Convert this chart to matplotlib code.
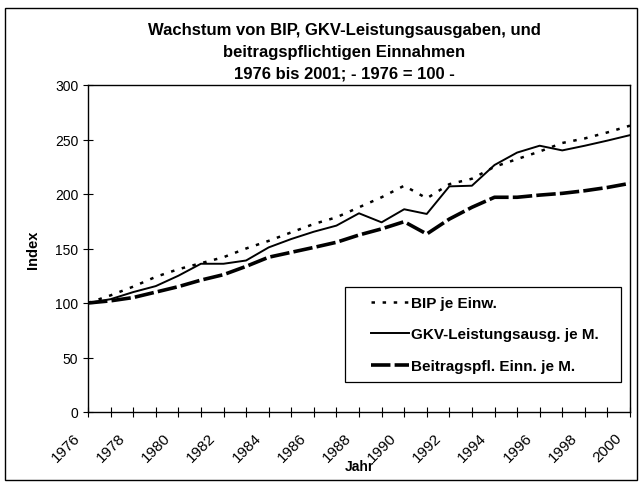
import matplotlib.pyplot as plt
from matplotlib.patches import Rectangle
from matplotlib.transforms import ScaledTranslation

plt.rcParams['font.family'] = ['Liberation Sans', 'DejaVu Sans']
plt.rcParams['lines.scale_dashes'] = False

jahre = list(range(1976, 2001))
bip = [100, 107, 115, 124, 131, 136.5, 142, 150, 157, 164.8, 172.5, 178.6, 187.8,
       197, 207.6, 196, 209, 214, 225, 232, 239, 246.8, 251, 256.5, 262.7]
gkv = [100, 103.5, 110, 115.5, 125, 136, 136, 139, 151, 158.7, 165.4, 171, 182.3,
       174, 186, 181.7, 207, 207.6, 226.6, 238, 244.3, 240, 244.3, 249, 254]
beitrag = [100, 102, 105, 110, 115, 121, 126, 133.6, 142, 146.5, 151, 155.7, 162.4,
           168, 174.6, 163.3, 177, 187.8, 197, 197, 199, 200.6, 203, 206, 209.8]

fig = plt.figure(figsize=(6.43, 4.89), dpi=100)
ax = fig.add_axes([88 / 643, 1 - 413 / 489, 542 / 643, 327 / 489])

ax.plot(jahre, bip, color='black', lw=1.8, dashes=(2.5, 5.5), label='BIP je Einw.')
ax.plot(jahre, gkv, color='black', lw=1.4, label='GKV-Leistungsausg. je M.')
ax.plot(jahre, beitrag, color='black', lw=2.6, dashes=(14, 3), label='Beitragspfl. Einn. je M.')

ax.set_xlim(1976, 2000)
ax.set_ylim(0, 300)
ax.set_yticks(range(0, 301, 50))
ax.set_xticks(jahre, minor=True)
ax.set_xticks(range(1976, 2001, 2))
ax.tick_params(axis='both', which='both', direction='inout', length=7, width=0.8,
               labelsize=10, colors='black')
ax.tick_params(axis='x', which='major', pad=0, labelsize=11)
# schräge Jahreszahlen etwas nach links unten versetzen
shift = ScaledTranslation(-15 / 100, -13 / 100, fig.dpi_scale_trans)
for lab in ax.get_xticklabels():
    lab.set_rotation(45)
    lab.set_ha('right')
    lab.set_va('top')
    lab.set_rotation_mode('anchor')
    lab.set_transform(lab.get_transform() + shift)
for s in ax.spines.values():
    s.set_linewidth(1.0)

tx = 344 / 643
fig.text(tx, 1 - 30 / 489, 'Wachstum von BIP, GKV-Leistungsausgaben, und',
         ha='center', va='center', fontsize=12, weight='bold')
fig.text(tx, 1 - 52 / 489, 'beitragspflichtigen Einnahmen',
         ha='center', va='center', fontsize=12, weight='bold')
fig.text(tx, 1 - 74 / 489, '1976 bis 2001; - 1976 = 100 -',
         ha='center', va='center', fontsize=12, weight='bold')

fig.text(359 / 643, 1 - 467 / 489, 'Jahr', ha='center', va='center',
         fontsize=10, weight='bold')
fig.text(33 / 643, 1 - 250 / 489, 'Index', ha='center', va='center',
         rotation=90, fontsize=10.5, weight='bold')

# Legende ohne eigenen Rahmen, Rahmen separat darunter
ax.legend(loc='center left', bbox_to_anchor=(363 / 643, 1 - 335.5 / 489),
          bbox_transform=fig.transFigure, frameon=False, borderpad=0,
          handlelength=2.5, handletextpad=0.15, labelspacing=1.15,
          prop={'size': 11, 'weight': 'bold'})
ax.add_patch(Rectangle((345 / 643, 1 - 383 / 489), 276 / 643, 95 / 489,
                       transform=fig.transFigure, facecolor='white',
                       edgecolor='black', lw=0.9, zorder=3))

fig.patches.append(Rectangle((5 / 643, 1 - 481 / 489), 632 / 643, 472 / 489,
                             transform=fig.transFigure, fill=False,
                             edgecolor='black', lw=1.0))

fig.savefig('out.png', dpi=100)
